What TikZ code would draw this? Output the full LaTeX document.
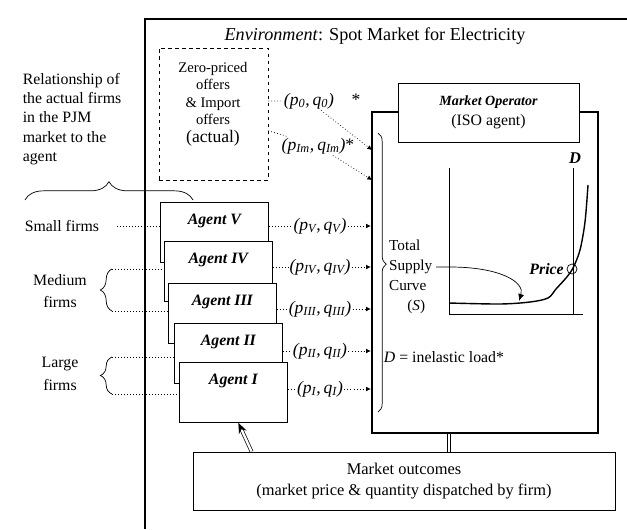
\documentclass[tikz,border=0pt]{standalone}
\usepackage{fontspec}
\setmainfont{Liberation Serif}
\usetikzlibrary{positioning,arrows.meta,decorations.pathreplacing}
\newcommand{\pq}[1]{{\itshape (p\textsubscript{#1},\,q\textsubscript{#1})}}

\begin{document}
\begin{tikzpicture}[x=0.03cm,y=-0.03cm,
    font=\fontsize{13.5}{16.5}\selectfont,
    cadre/.style={line width=2pt},
    agent/.style={draw,semithick,fill=white,anchor=north west,
        minimum width=3.24cm,minimum height=1.8cm,
        inner ysep=0.175cm,text height=0.5cm,text depth=0.95cm,
        font=\fontsize{13.5}{15}\selectfont\bfseries\itshape},
    offre/.style={inner sep=1pt,font=\fontsize{15}{16}\selectfont},
    flux/.style={dotted,semithick,-{Latex[length=4pt,width=4pt]}},
    pointille/.style={dotted,semithick},
    accolade/.style={decorate,decoration={brace,amplitude=#1},semithick},
    accolade/.default=0.3cm,
    boite/.style={draw,thick,fill=white,align=center}]
    \useasboundingbox (0,0) rectangle (627,529);

    % Cadre de l'environnement
    \draw[cadre] (145,529) -- (145,19) -- (627,19);
    \node (titre) at (375,36) {\fontsize{15.5}{18}\selectfont\textit{Environment}: Spot Market for Electricity};

    % Texte de gauche
    \node[align=left] (relation) at (72,119) {Relationship of\\the actual firms\\in the PJM\\market to the\\agent};
    \draw[accolade=0.55cm] (25,200) coordinate (bg) -- (193,200) coordinate (bd);

    % Offres a prix nul
    \node[draw,dashed,semithick,minimum width=3.27cm,minimum height=3.96cm] (zero) at (213.5,114) {};
    \node[align=center,font=\fontsize{12.5}{15}\selectfont] (zerotxt) at (213,104)
        {Zero-priced\\offers\\\& Import\\offers\\{\fontsize{15}{17}\selectfont (actual)}};

    % Marche
    \node[draw,cadre,minimum width=6.78cm,minimum height=9.63cm] (mkt) at (485,272.5) {};
    \node[boite,minimum width=5.43cm,minimum height=1.77cm,font=\fontsize{13.5}{17}\selectfont] (iso) at (488.5,112.5)
        {{\fontsize{12}{14}\selectfont\bfseries\itshape Market Operator}\\(ISO agent)};
    \draw[accolade=0.25cm,decoration={aspect=0.47}] (378,133) -- (378,412);

    % Courbe d'offre
    \node[align=left,anchor=west,font=\fontsize{13}{17}\selectfont] (courbe) at (385,277)
        {Total\\Supply\\Curve\\\hspace{1.2em}(\textit{S})};
    \draw[semithick] (449,168) -- (449,314) -- (583,314);
    \draw[semithick] (573,168) -- (573,314);
    \node[font=\fontsize{14}{16}\selectfont\bfseries\itshape] (dem) at (575,158) {D};
    \draw[line width=1.2pt] plot[smooth] coordinates {(449,303) (500,304) (530,302) (548,298) (556,289) (566,278) (573,268) (580,250) (585,222) (588,185)};
    \node[circle,draw,semithick,inner sep=0pt,minimum size=0.3cm] (eq) at (572,269) {};
    \node[left=-1pt of eq,font=\fontsize{13.5}{16}\selectfont\bfseries\itshape] (prix) {Price};
    \coordinate (sdep) at (436,267);
    \coordinate (sfin) at (519,301);
    \draw[semithick,-{Latex[length=6pt,width=5pt]}] (sdep) -- (450,267) .. controls (500,267) and (525,282) .. (sfin);
    \node (charge) at (444,357) {\textit{D} = inelastic load*};

    % Offres vers le marche
    \node[offre] (lzero) at (309,101) {\pq{0}};
    \node[offre] (etoile) at (356,100) {*};
    \node[offre] (lim) at (318,146) {\pq{Im}*};
    \coordinate (mzero) at (372,150);
    \coordinate (mim) at (372,180);
    \draw[flux] (zero.east |- lzero) -- (lzero) -- (mzero);
    \draw[flux] ([yshift=-0.5cm]zero.east) -- (lim) -- (mim);

    % Agents
    \foreach \n/\x/\y in {V/160/202,IV/164/241,III/168/283,II/174/323,I/179/362}
        \node[agent] (a\n) at (\x,\y) {Agent \n};
    \foreach \n/\y in {V/226,IV/267,III/309,II/351,I/389} {
        \node[offre] (l\n) at (320,\y) {\pq{\n}};
        \draw[flux] (a\n.east |- l\n) -- (l\n) -- (mkt.west |- l\n);
    }

    % Types de firmes
    \node (petites) at (62,226) {Small firms};
    \draw[pointille] ([xshift=0.4cm]petites.east) -- (aV.west |- petites);
    \node[align=center,font=\fontsize{13.5}{19}\selectfont] (moyennes) at (60,291) {Medium\\firms};
    \coordinate (mh) at (112,269);
    \coordinate (mb) at (112,311);
    \draw[accolade=0.35cm] (mb) -- (mh);
    \draw[pointille] (mh) -- (aIV.west |- mh);
    \draw[pointille] (mb) -- (aIII.west |- mb);
    \node[align=center,font=\fontsize{13.5}{19}\selectfont] (grandes) at (60,374) {Large\\firms};
    \coordinate (gh) at (112,357);
    \coordinate (gb) at (112,394);
    \draw[accolade=0.35cm] (gb) -- (gh);
    \draw[pointille] (gh) -- (aII.west |- gh);
    \draw[pointille] (gb) -- (aI.west |- gb);

    % Resultats du marche
    \node[boite,minimum width=12.66cm,minimum height=1.74cm,font=\fontsize{14}{18.5}\selectfont] (res) at (404,481)
        {Market outcomes\\(market price \& quantity dispatched by firm)};
    \coordinate (dx) at (449,0);
    \draw[thick,double,double distance=2pt] (mkt.south -| dx) -- (res.north -| dx);
    \draw[semithick,double,double distance=2pt,-{Stealth[length=9pt,width=7pt]}] ([xshift=1.77cm]res.north west) -- ([xshift=0.15cm]aI.south);
\end{tikzpicture}
\end{document}
